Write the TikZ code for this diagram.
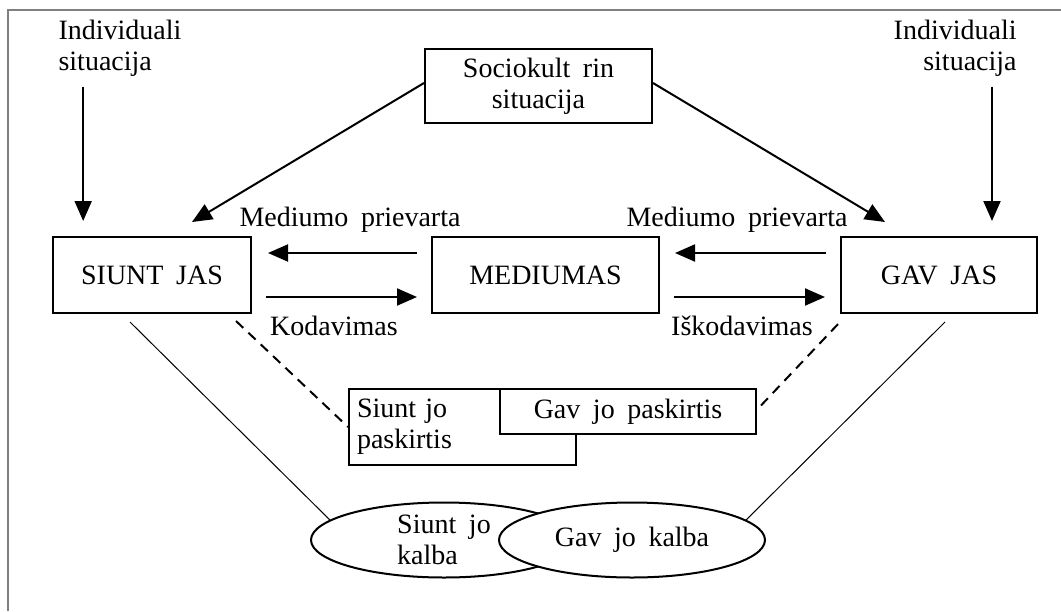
\documentclass[tikz,border=0pt]{standalone}
\usepackage{fontspec}
\setmainfont{Liberation Serif}[WordSpace=1.8]
\usetikzlibrary{arrows.meta}
\usetikzlibrary{shapes.geometric}

\begin{document}
\begin{tikzpicture}[x=0.5pt,y=-0.5pt,
    font=\fontsize{14}{15.5}\selectfont,
    box/.style={draw,line width=1pt,inner sep=0pt},
    oval/.style={draw,ellipse,line width=1pt,inner sep=-2pt,fill=white,
        minimum width=133pt,minimum height=37.5pt},
    arr/.style={line width=1pt,-{Triangle[length=10pt,width=8.5pt]}},
    dsh/.style={line width=1pt,dash pattern=on 5pt off 3.5pt},
    thin/.style={line width=0.5pt}]
            \useasboundingbox (0,0) rectangle (1061,611);
            \draw[gray,line width=1pt] (8,611) -- (8,10) -- (1061,10);

            % situations
            \node[inner sep=0pt,align=left] (indl) at (120,48) {Individuali\\situacija};
            \node[inner sep=0pt,align=right,anchor=east] (indr) at (1017,48) {Individuali\\situacija};
            \node[box,align=center,minimum width=113.5pt,minimum height=37pt] (socio) at (538.5,86) {Sociokult rin\\situacija};

            % main row
            \node[box,minimum width=99pt,minimum height=38pt] (siunt) at (152,275) {SIUNT JAS};
            \node[box,minimum width=113.5pt,minimum height=38pt] (med) at (545.5,275) {MEDIUMAS};
            \node[box,minimum width=98pt,minimum height=38pt] (gav) at (939,275) {GAV JAS};

            \node[inner sep=0pt] (mpl) at (350,220) {Mediumo prievarta};
            \node[inner sep=0pt] (mpr) at (737,220) {Mediumo prievarta};
            \node[inner sep=0pt] (kod) at (334,326) {Kodavimas};
            \node[inner sep=0pt] (iskod) at (742,326) {Iškodavimas};

            % purposes
            \node[box,inner xsep=4pt,text width=105.5pt,align=left,minimum height=38pt] (spask) at (462.5,427) {Siunt jo\\paskirtis};
            \node[box,fill=white,minimum width=128pt,minimum height=22.5pt] (gpask) at (628,411.5) {Gav jo paskirtis};

            % languages
            \node[oval,align=left] (skalba) at (444,540) {Siunt jo\\kalba};
            \node[oval] (gkalba) at (632,540) {Gav jo kalba};

            \draw[arr,shorten <=5pt,shorten >=7.5pt] ([xshift=12.5pt]indl.south west) -- ([xshift=12.5pt]indl.south west |- siunt.north);
            \draw[arr,shorten <=5pt,shorten >=7.5pt] ([xshift=-12.5pt]indr.south east) -- ([xshift=-12.5pt]indr.south east |- gav.north);
            \draw[arr] ([yshift=1.5pt]socio.west) -- ([xshift=20pt,yshift=7pt]siunt.north);
            \draw[arr] ([yshift=1.5pt]socio.east) -- ([xshift=-27pt,yshift=7pt]gav.north);

            \draw[arr,shorten <=7pt,shorten >=8pt] ([yshift=11pt]med.west) -- ([yshift=11pt]siunt.east);
            \draw[arr,shorten <=7pt,shorten >=7pt] ([yshift=-11pt]siunt.east) -- ([yshift=-11pt]med.west);
            \draw[arr,shorten <=7pt,shorten >=7.5pt] ([yshift=11pt]gav.west) -- ([yshift=11pt]med.east);
            \draw[arr,shorten <=7pt,shorten >=7.5pt] ([yshift=-11pt]med.east) -- ([yshift=-11pt]gav.west);

            \draw[dsh] ([xshift=-8pt,yshift=-3.5pt]siunt.south east) -- (spask.west);
            \draw[dsh] ([xshift=2pt,yshift=3pt]gpask.east) -- ([yshift=-4pt]gav.south west);

            \draw[thin] ([xshift=-11pt,yshift=-4pt]siunt.south) -- (skalba.170);
            \draw[thin] ([xshift=3pt,yshift=-4pt]gav.south) -- (gkalba.10);
        \end{tikzpicture}
\end{document}
